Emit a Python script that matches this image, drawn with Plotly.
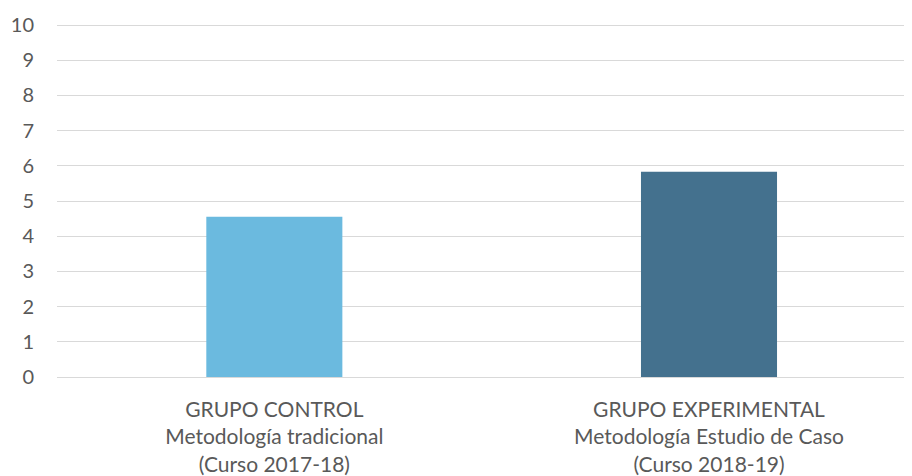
import plotly.graph_objects as go

categories = [
    "GRUPO CONTROL<br>Metodología tradicional<br>(Curso 2017-18)",
    "GRUPO EXPERIMENTAL<br>Metodología Estudio de Caso<br>(Curso 2018-19)",
]
values = [4.55, 5.83]
colors = ["#6BBADF", "#44718E"]
y_ticks = list(range(0, 11))

fig = go.Figure(
    go.Bar(
        x=[0, 1],
        y=values,
        marker=dict(color=colors, line=dict(width=0)),
        width=0.313,
    )
)

font_family = "Lato, 'Open Sans', sans-serif"
fig.update_layout(
    width=904,
    height=468,
    margin=dict(l=49, r=0, t=16, b=99, autoexpand=False),
    plot_bgcolor="white",
    paper_bgcolor="white",
    showlegend=False,
    font=dict(family=font_family, size=20, color="#595959"),
)
fig.update_xaxes(
    range=[-0.5, 1.467],
    tickmode="array",
    tickvals=[0, 1],
    ticktext=categories,
    showgrid=False,
    zeroline=False,
    showline=False,
    ticks="",
    automargin=False,
    ticklabelstandoff=18,
    tickfont=dict(size=21, color="#595959"),
)
fig.update_yaxes(
    range=[0, 10.03],
    tickmode="array",
    tickvals=y_ticks,
    showgrid=True,
    gridcolor="#D9D9D9",
    gridwidth=1,
    zeroline=True,
    zerolinecolor="#D9D9D9",
    zerolinewidth=1,
    ticks="",
    automargin=False,
    ticklabelstandoff=22,
    tickfont=dict(size=20, color="#595959"),
)

fig.write_html("out.html")
